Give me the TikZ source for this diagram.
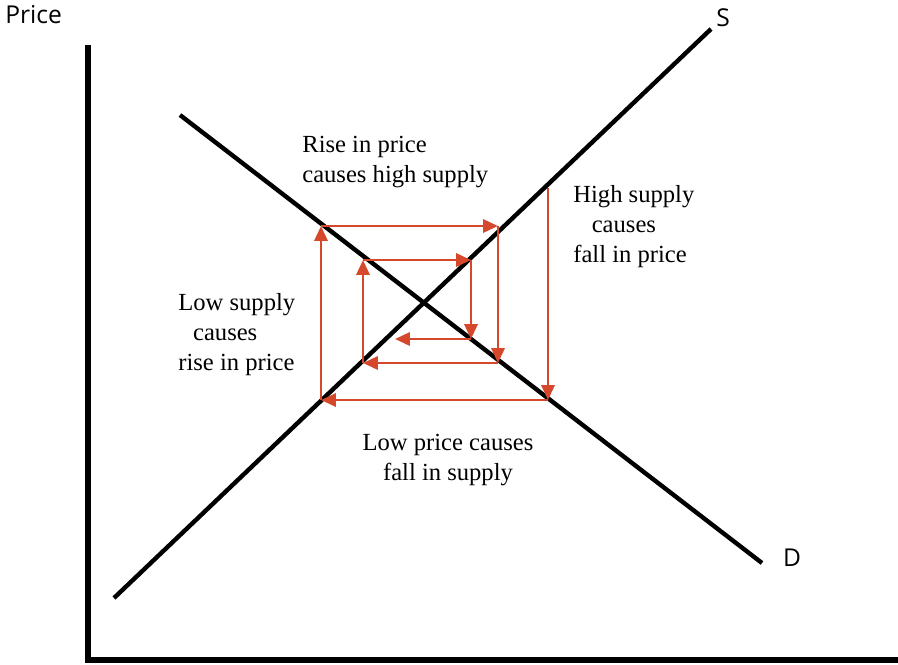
\documentclass[tikz,border=0pt]{standalone}
\usepackage{fontspec}
\setmainfont{Liberation Serif}
\newfontfamily\labelsans{Open Sans}
\usetikzlibrary{arrows.meta}
\definecolor{cobred}{RGB}{214,72,44}

\begin{document}
\begin{tikzpicture}[
  x=0.02cm, y=-0.02cm,
  axis/.style={line width=3.6pt, line join=miter},
  curve/.style={line width=2.5pt},
  cobweb/.style={-{Triangle[length=8.5pt,width=7.5pt]}, draw=cobred, line width=1.6pt},
  note/.style={font=\fontsize{14pt}{17pt}\selectfont, inner sep=0pt, align=left},
  axislabel/.style={font=\labelsans\fontsize{14pt}{16pt}\selectfont, inner sep=0pt}
]
\useasboundingbox (0,0) rectangle (898,664);

% axes
\coordinate (ytop) at (88,45);
\coordinate (origin) at (88,660);
\coordinate (xend) at (898,660);
\draw[axis] (ytop) -- (origin) -- (xend);
\node[axislabel, anchor=base west] (price) at (5,23) {Price};

% supply and demand
\coordinate (s0) at (114,598);
\coordinate (s1) at (711,29);
\coordinate (d0) at (180,115);
\coordinate (d1) at (762,563);
\draw[curve] (s0) -- (s1);
\draw[curve] (d0) -- (d1);
\node[axislabel] (slabel) at (723,18) {S};
\node[axislabel] (dlabel) at (792,558) {D};

% cobweb corners
\coordinate (c1) at (548,188);
\coordinate (c2) at (548,400);
\coordinate (c3) at (321,400);
\coordinate (c4) at (321,226);
\coordinate (c5) at (498,226);
\coordinate (c6) at (498,363);
\coordinate (c7) at (363,363);
\coordinate (c8) at (363,260);
\coordinate (c9) at (471,260);
\coordinate (c10) at (471,339);
\coordinate (c11) at (395,339);
\draw[cobweb] (c1) -- (c2);
\draw[cobweb] (c2) -- (c3);
\draw[cobweb] (c3) -- (c4);
\draw[cobweb] (c4) -- (c5);
\draw[cobweb] (c5) -- (c6);
\draw[cobweb] (c6) -- (c7);
\draw[cobweb] (c7) -- (c8);
\draw[cobweb] (c8) -- (c9);
\draw[cobweb] (c9) -- (c10);
\draw[cobweb] (c10) -- (c11);

% notes (base = baseline of the last line)
\node[note, anchor=base west] (rise) at (302,182) {Rise in price\\causes high supply};
\node[note, anchor=base west] (high) at (573,262) {High supply\\\hspace*{0.75em}causes\\fall in price};
\node[note, anchor=base west] (lowsup) at (178,370) {Low supply\\\hspace*{0.6em}causes\\rise in price};
\node[note, align=center, anchor=base] (lowprice) at (448,480) {Low price causes\\fall in supply};
\end{tikzpicture}
\end{document}
